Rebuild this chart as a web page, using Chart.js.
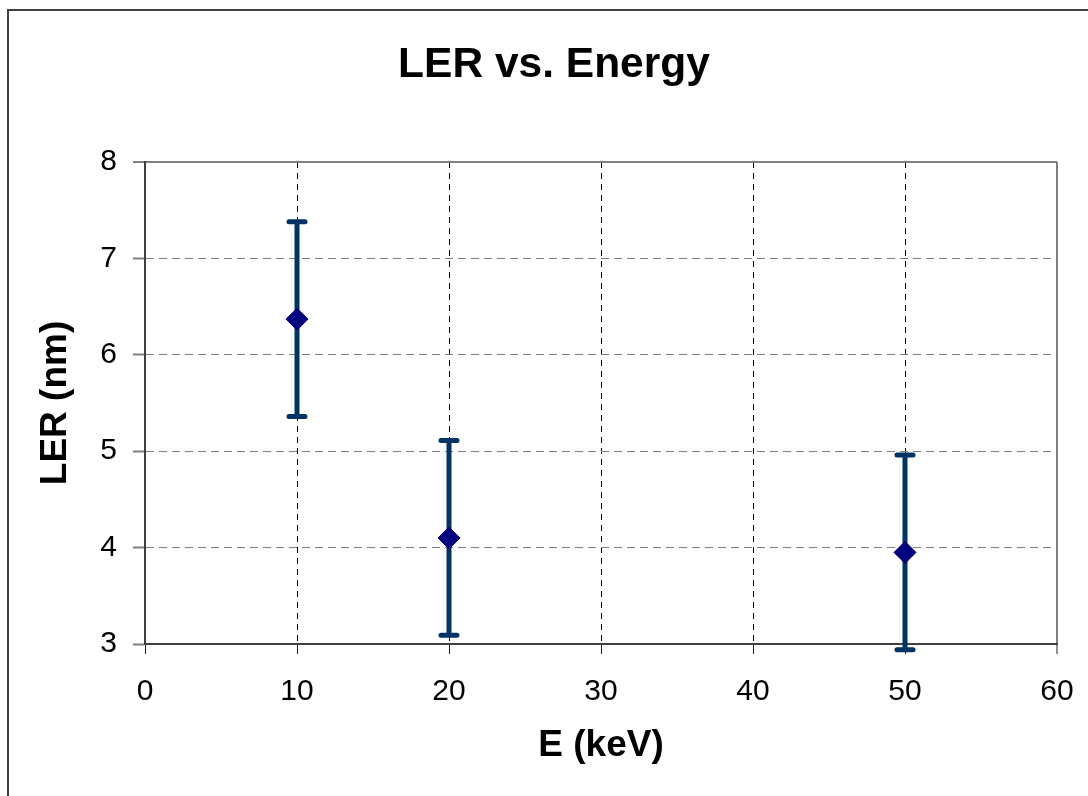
<!DOCTYPE html>
<html>
<head>
<meta charset="utf-8">
<script src="https://cdn.jsdelivr.net/npm/chart.js@4/dist/chart.umd.min.js"></script>
<style>
  html, body { margin: 0; padding: 0; background: #ffffff; }
  #wrap { width: 1088px; height: 796px; position: relative; }
</style>
</head>
<body>
<div id="wrap"><canvas id="c" width="1088" height="796"></canvas></div>
<script>
// ---- data ----
const chartTitle = 'LER vs. Energy';
const energies = [10, 20, 50];          // E (keV)
const lerValues = [6.37, 4.10, 3.95];   // LER (nm)
const lerErrors = [1.01, 1.01, 1.01];   // +/- error (nm)
const xTicks = [0, 10, 20, 30, 40, 50, 60];
const yTicks = [3, 4, 5, 6, 7, 8];

const FONT = "'Liberation Sans', Arial, Helvetica, sans-serif";

const frame = {
  id: 'frame',
  beforeDraw(chart) {
    const ctx = chart.ctx;
    ctx.save();
    ctx.fillStyle = '#ffffff';
    ctx.fillRect(0, 0, chart.width, chart.height);
    ctx.strokeStyle = '#404040';
    ctx.lineWidth = 2;
    ctx.strokeRect(8, 10, 2000, 2000);
    ctx.restore();
  },
  afterDraw(chart) {
    const ctx = chart.ctx;
    ctx.save();
    ctx.fillStyle = '#000000';
    ctx.font = 'bold 42.5px ' + FONT;
    ctx.textAlign = 'center';
    ctx.textBaseline = 'middle';
    ctx.fillText(chartTitle, 554, 65);
    ctx.restore();
  }
};

const errorBars = {
  id: 'errorBars',
  beforeDatasetsDraw(chart) {
    const ctx = chart.ctx;
    const xs = chart.scales.x, ys = chart.scales.y;
    ctx.save();
    ctx.strokeStyle = '#003366';
    ctx.lineWidth = 5;
    ctx.lineCap = 'round';
    for (let i = 0; i < energies.length; i++) {
      const px = xs.getPixelForValue(energies[i]);
      const top = ys.getPixelForValue(lerValues[i] + lerErrors[i]);
      const bot = ys.getPixelForValue(lerValues[i] - lerErrors[i]);
      ctx.beginPath();
      ctx.moveTo(px, top); ctx.lineTo(px, bot);
      ctx.moveTo(px - 8, top); ctx.lineTo(px + 8, top);
      ctx.moveTo(px - 8, bot); ctx.lineTo(px + 8, bot);
      ctx.stroke();
    }
    ctx.restore();
  }
};

new Chart(document.getElementById('c'), {
  type: 'scatter',
  data: {
    datasets: [{
      label: 'LER',
      data: energies.map((e, i) => ({ x: e, y: lerValues[i] })),
      pointStyle: 'rectRot',
      pointRadius: 11,
      pointBackgroundColor: '#000080',
      pointBorderColor: '#000080',
      pointBorderWidth: 1,
      showLine: false,
      clip: false
    }]
  },
  options: {
    responsive: false,
    animation: false,
    devicePixelRatio: 1,
    layout: { padding: { left: 0, right: 31, top: 162, bottom: 0 } },
    plugins: {
      legend: { display: false },
      tooltip: { enabled: false },
      title: { display: false }
    },
    scales: {
      x: {
        type: 'linear',
        min: 0, max: 60,
        afterBuildTicks(scale) { scale.ticks = xTicks.map(v => ({ value: v })); },
        afterFit(scale) { scale.height = 152; scale.paddingLeft = 0; scale.paddingRight = 0; },
        ticks: {
          color: '#000000',
          font: { family: FONT, size: 30 },
          padding: 20,
          maxRotation: 0
        },
        grid: {
          color: (c) => c.tick && c.tick.value === 60 ? '#808080' : '#000000',
          lineWidth: (c) => c.tick && c.tick.value === 60 ? 2 : 1,
          tickLength: 10,
          tickColor: '#202020',
          tickWidth: 1
        },
        border: {
          display: true,
          color: '#404040',
          width: 2,
          dash: (c) => c.tick && c.tick.value === 60 ? [] : [6, 5]
        },
        title: {
          display: true,
          text: 'E (keV)',
          color: '#000000',
          font: { family: FONT, size: 37, weight: 'bold', lineHeight: 1.2 },
          padding: { top: 0, bottom: 28 }
        }
      },
      y: {
        type: 'linear',
        min: 3, max: 8,
        afterBuildTicks(scale) { scale.ticks = yTicks.map(v => ({ value: v })); },
        afterFit(scale) { scale.width = 145; scale.paddingTop = 0; scale.paddingBottom = 0; },
        ticks: {
          color: '#000000',
          font: { family: FONT, size: 30 },
          padding: 16
        },
        grid: {
          color: '#808080',
          lineWidth: (c) => c.tick && c.tick.value === 8 ? 2 : 1,
          tickLength: 12,
          tickColor: '#808080',
          tickWidth: 2
        },
        border: {
          display: true,
          color: '#404040',
          width: 2,
          dash: (c) => c.tick && c.tick.value === 8 ? [] : [8, 5]
        },
        title: {
          display: true,
          text: 'LER (nm)',
          color: '#000000',
          font: { family: FONT, size: 37, weight: 'bold', lineHeight: 1.2 },
          padding: { top: 34, bottom: 0 }
        }
      }
    }
  },
  plugins: [frame, errorBars]
});
</script>
</body>
</html>
